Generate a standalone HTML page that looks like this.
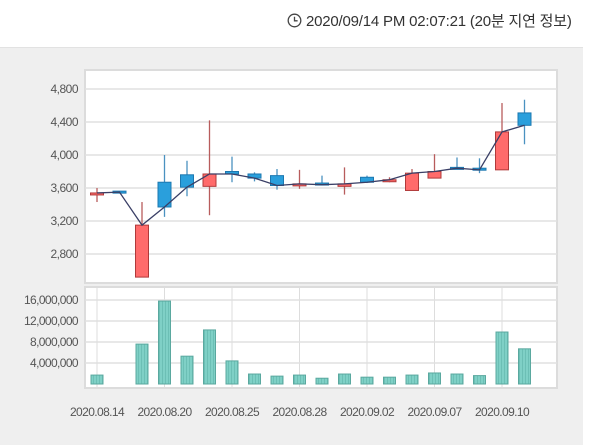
<!DOCTYPE html>
<html><head><meta charset="utf-8">
<style>
body{margin:0;width:600px;height:444px;background:#fff;overflow:hidden;font-family:"Liberation Sans","Noto Sans CJK KR",sans-serif;}
#hdr{position:absolute;left:287px;top:10px;font-size:15px;color:#333;white-space:nowrap;letter-spacing:-0.2px}
#panel{position:absolute;left:0;top:47px;width:583px;height:397px;background:#efefef;border-top:1px solid #e2e2e2}
svg{position:absolute;left:0;top:0}
</style></head><body>
<div id="hdr"><svg width="15" height="15" style="position:relative;top:2px;display:inline-block;vertical-align:baseline"><circle cx="7.5" cy="7.5" r="6.3" fill="none" stroke="#444" stroke-width="1.3"/><path d="M7.5 3.8V7.8H10.6" fill="none" stroke="#444" stroke-width="1.3"/></svg> 2020/09/14 PM 02:07:21 (20분 지연 정보)</div>
<div id="panel"></div>
<svg id="chart" width="600" height="444"></svg>
<script>
const dates=["2020.08.14","2020.08.17","2020.08.18","2020.08.20","2020.08.21","2020.08.24","2020.08.25","2020.08.26","2020.08.27","2020.08.28","2020.08.31","2020.09.01","2020.09.02","2020.09.03","2020.09.04","2020.09.07","2020.09.08","2020.09.09","2020.09.10","2020.09.11"];
const labelIdx=[0,3,6,9,12,15,18];
const openV=[3530,3550,2520,3670,3760,3620,3800,3770,3750,3640,3660,3620,3730,3680,3570,3720,3850,3840,3820,4510];
const closeV=[3540,3550,3150,3370,3610,3770,3770,3720,3630,3650,3640,3650,3670,3700,3780,3800,3840,3820,4280,4360];
const highV=[3600,3550,3430,4000,3930,4420,3980,3790,3830,3820,3750,3850,3750,3730,3830,4010,3970,3960,4630,4670];
const lowV=[3430,3550,2520,3250,3500,3270,3670,3680,3580,3590,3630,3520,3660,3670,3570,3720,3830,3780,3820,4130];
const volV=[1700000,0,7600000,15800000,5300000,10300000,4400000,1900000,1500000,1700000,1100000,1900000,1300000,1300000,1700000,2100000,1900000,1600000,9900000,6700000];
const priceTicks=[2800,3200,3600,4000,4400,4800];
const volTicks=[4000000,8000000,12000000,16000000];

const svg=document.getElementById('chart');
const NS='http://www.w3.org/2000/svg';
function mk(tag,attrs,parent){const e=document.createElementNS(NS,tag);for(const k in attrs)e.setAttribute(k,attrs[k]);(parent||svg).appendChild(e);return e;}
const PL=85,PR=557,PT=70,PB=283,VT=287,VB=388;
const x=i=>97+i*22.5;
const py=v=>188-(v-3600)*33/400;
const vy=v=>384-v*21/4000000;
const fmt=n=>n.toLocaleString('en-US');

const defs=mk('defs',{});
const pat=mk('pattern',{id:'stripe',width:3,height:4,patternUnits:'userSpaceOnUse'},defs);
mk('rect',{width:3,height:4,fill:'#7fd0c6'},pat);
mk('rect',{width:1,height:4,fill:'#6cbfb5'},pat);

let f=mk('rect',{x:PL,y:PT,width:PR-PL,height:PB-PT,fill:'#fff',stroke:'#dcdcdc','stroke-width':2});

f=mk('rect',{x:PL,y:VT,width:PR-PL,height:VB-VT,fill:'#fff',stroke:'#dcdcdc','stroke-width':2});


labelIdx.forEach(i=>{
  let g=mk('line',{x1:x(i),x2:x(i),y1:VT,y2:VB,stroke:'#ddd','stroke-width':1});
  
  let t=mk('text',{x:x(i),y:416,'text-anchor':'middle','font-size':12,fill:'#555','letter-spacing':'-0.6'});
  t.textContent=dates[i];
  
});
priceTicks.forEach(v=>{
  let g=mk('line',{x1:PL,x2:PR,y1:py(v),y2:py(v),stroke:'#e0e0e0','stroke-width':1.5});
  
  let t=mk('text',{x:78,y:py(v)+4,'text-anchor':'end','font-size':12,fill:'#555','letter-spacing':'-0.5'});
  t.textContent=fmt(v);
  
});
volTicks.forEach(v=>{
  let g=mk('line',{x1:PL,x2:PR,y1:vy(v),y2:vy(v),stroke:'#e0e0e0','stroke-width':1.5});
  
  let t=mk('text',{x:78,y:vy(v)+4,'text-anchor':'end','font-size':12,fill:'#555','letter-spacing':'-0.6'});
  t.textContent=fmt(v);
  
});
volV.forEach((v,i)=>{
  if(v<=0)return;
  let b=mk('rect',{x:x(i)-6,y:vy(v),width:12,height:384-vy(v),fill:'url(#stripe)',stroke:'#5aa89f','stroke-width':1});
  
});
openV.forEach((o,i)=>{
  const c=closeV[i],up=c>o,flat=c===o;
  const col=up?'#ff6b6b':'#2a9fdc',sc=up?'#b03a3a':'#1c78b0';
  let w=mk('line',{x1:x(i),x2:x(i),y1:py(highV[i]),y2:py(lowV[i]),stroke:up?'#b85c5c':'#4a92c0','stroke-width':1.3});
  
  const top=py(Math.max(o,c)),h=Math.max(Math.abs(py(o)-py(c)),2);
  let b=mk('rect',{x:x(i)-6.5,y:flat?top-1:top,width:13,height:h,fill:col,stroke:sc,'stroke-width':1});
  
});
let pts=closeV.map((c,i)=>x(i)+','+py(c)).join(' ');
let ln=mk('polyline',{points:pts,fill:'none',stroke:'#3a3f66','stroke-width':1.3});

</script>
</body></html>
